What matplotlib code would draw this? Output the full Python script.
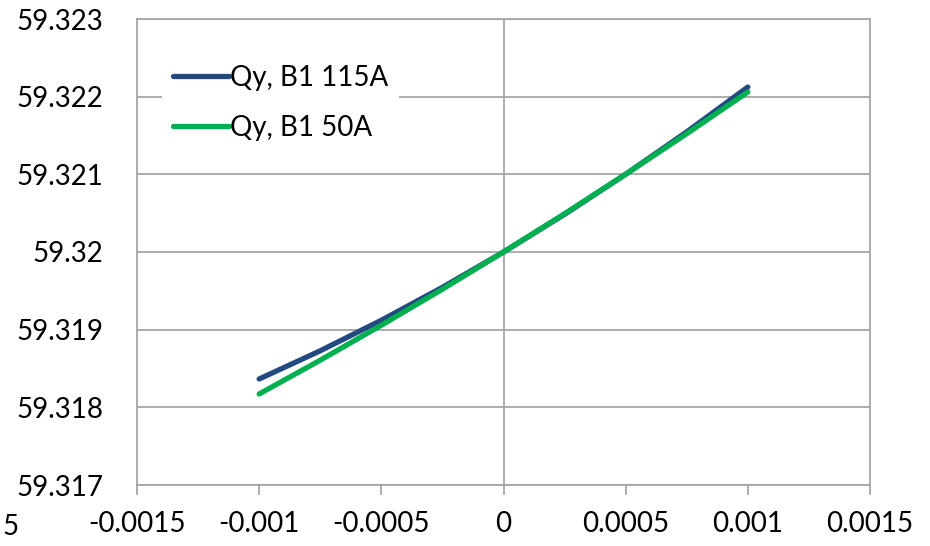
"""
Tune Qy vs. relative momentum offset for two B1 settings (Excel-style line chart).
"""

import matplotlib.pyplot as plt
import matplotlib as mpl

mpl.rcParams["font.family"] = ["Lato", "DejaVu Sans"]
mpl.rcParams["font.size"] = 20

# -----------------------------------------------------------------------------
# Data
# -----------------------------------------------------------------------------
dp = [-0.001, -0.00075, -0.0005, -0.00025, 0.0, 0.00025, 0.0005, 0.00075, 0.001]
qy_115A = [59.318365, 59.318728, 59.319121, 59.319545, 59.320000,
           59.320485, 59.321001, 59.321547, 59.322124]
qy_50A = [59.318172, 59.318607, 59.319057, 59.319521, 59.320000,
          59.320493, 59.321001, 59.321523, 59.322060]

x_ticks = [-0.0015, -0.001, -0.0005, 0, 0.0005, 0.001, 0.0015]
x_labels = ["-0.0015", "-0.001", "-0.0005", "0", "0.0005", "0.001", "0.0015"]
y_ticks = [59.317, 59.318, 59.319, 59.32, 59.321, 59.322, 59.323]
y_labels = ["59.317", "59.318", "59.319", "59.32", "59.321", "59.322", "59.323"]

GRID = "#a6a6a6"
BLUE = "#234a80"
GREEN = "#00b050"

fig = plt.figure(figsize=(9.3, 5.46), dpi=100)
ax = fig.add_axes([137 / 930, 1 - 485 / 546, (870 - 137) / 930, (485 - 19) / 546])

ax.plot(dp, qy_115A, color=BLUE, lw=3.8, solid_capstyle="round", label="Qy, B1 115A", zorder=3)
ax.plot(dp, qy_50A, color=GREEN, lw=3.8, solid_capstyle="round", label="Qy, B1 50A", zorder=4)

ax.set_xlim(-0.0015, 0.0015)
ax.set_ylim(59.317, 59.323)
ax.set_xticks(x_ticks)
ax.set_xticklabels(x_labels)
ax.set_yticks(y_ticks)
ax.set_yticklabels(y_labels)

ax.grid(axis="y", color=GRID, lw=1.3, zorder=0)
ax.axvline(0, color=GRID, lw=1.3, zorder=1)
for s in ax.spines.values():
    s.set_color(GRID)
    s.set_linewidth(1.3)

ax.tick_params(axis="x", direction="out", length=7, width=1.3, color=GRID, pad=12)
ax.tick_params(axis="y", length=0, pad=24)

leg = ax.legend(loc="upper left", bbox_to_anchor=(0.034, 0.925), frameon=True,
                fancybox=False, edgecolor="none", facecolor="white", framealpha=1,
                handlelength=2.0, handletextpad=0.05, labelspacing=0.85,
                borderpad=0.4, borderaxespad=0, fontsize=20)

# stray label fragment at the left edge of the reference
fig.text(2 / 930, 1 - 527 / 546, "5", ha="left", va="center", fontsize=20)

fig.savefig("out.png", dpi=100)
plt.close()
